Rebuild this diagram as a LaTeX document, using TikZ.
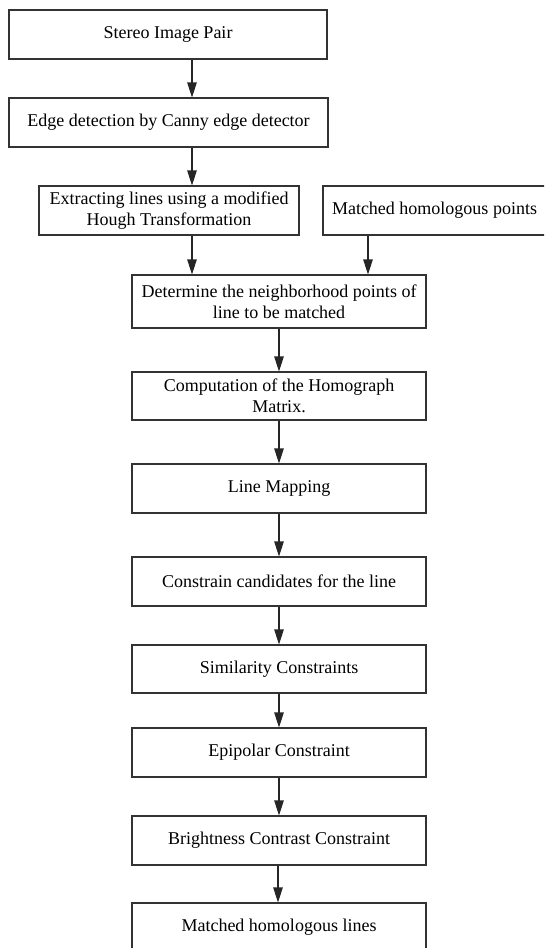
\documentclass[tikz,border=0pt]{standalone}
\usepackage{fontspec}
\setmainfont{Liberation Serif}
\usetikzlibrary{arrows.meta}
\begin{document}
\begin{tikzpicture}[x=1pt,y=-1pt,
  box/.style={draw=black!80, line width=1.1pt, rectangle, inner sep=0pt, align=center,
    font=\fontsize{18}{21}\selectfont},
  arr/.style={draw=black!85, line width=1.1pt, -{Triangle[length=15pt,width=9.5pt]}}]
\useasboundingbox (0,0) rectangle (544,948);
\clip (0,0) rectangle (544,948);
\node[box, minimum width=318pt, minimum height=49pt] (b1) at (168,34.5) {Stereo Image Pair};
\node[box, minimum width=319pt, minimum height=49pt] (b2) at (168.5,122.5) {Edge detection by Canny edge detector};
\node[box, minimum width=260pt, minimum height=49pt] (b3) at (169,210.5) {Extracting lines using a modified\\Hough Transformation};
\node[box, minimum width=223pt, minimum height=49pt] (b4) at (434.5,210.5) {Matched homologous points};
\node[box, minimum width=294pt, minimum height=53pt] (b5) at (279,301.5) {Determine the neighborhood points of\\line to be matched};
\node[box, minimum width=294pt, minimum height=48pt] (b6) at (279,396) {Computation of the Homograph\\Matrix.};
\node[box, minimum width=294pt, minimum height=49pt] (b7) at (279,488.5) {Line Mapping};
\node[box, minimum width=294pt, minimum height=49pt] (b8) at (279,581.5) {Constrain candidates for the line};
\node[box, minimum width=294pt, minimum height=48pt] (b9) at (279,669) {Similarity Constraints};
\node[box, minimum width=294pt, minimum height=49pt] (b10) at (279,752.5) {Epipolar Constraint};
\node[box, minimum width=294pt, minimum height=49pt] (b11) at (279,840.5) {Brightness Contrast Constraint};
\node[box, minimum width=294pt, minimum height=49pt] (b12) at (279,927.5) {Matched homologous lines};
\coordinate (xa) at (192,0);
\coordinate (xb) at (368,0);
\coordinate (xc) at (279,0);
\coordinate (xd) at (278,0);
\draw[arr] (b1.south -| xa) -- (b2.north -| xa);
\draw[arr] (b2.south -| xa) -- (b3.north -| xa);
\draw[arr] (b3.south -| xa) -- (b5.north -| xa);
\draw[arr] (b4.south -| xb) -- (b5.north -| xb);
\draw[arr] (b5.south -| xc) -- (b6.north -| xc);
\draw[arr] (b6.south -| xc) -- (b7.north -| xc);
\draw[arr] (b7.south -| xc) -- (b8.north -| xc);
\draw[arr] (b8.south -| xc) -- (b9.north -| xc);
\draw[arr] (b9.south -| xc) -- (b10.north -| xc);
\draw[arr] (b10.south -| xc) -- (b11.north -| xc);
\draw[arr] (b11.south -| xd) -- (b12.north -| xd);
\end{tikzpicture}
\end{document}
